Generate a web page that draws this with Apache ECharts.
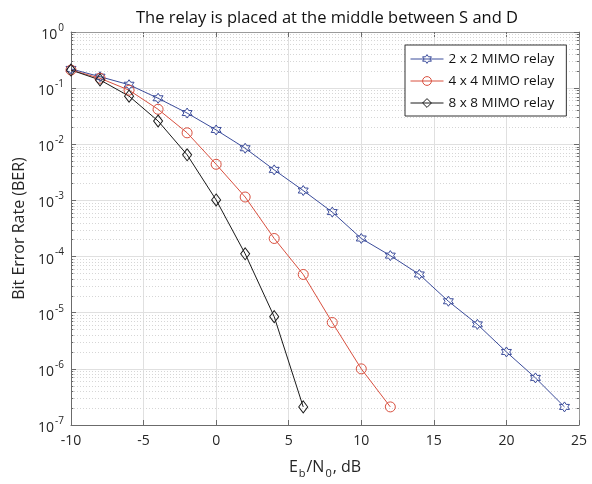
<!DOCTYPE html>
<html>
<head>
<meta charset="utf-8">
<script src="https://cdn.jsdelivr.net/npm/echarts@6/dist/echarts.min.js"></script>
<style>
  html, body { margin: 0; padding: 0; background: #fff; }
  #chart { width: 592px; height: 484px; }
</style>
</head>
<body>
<div id="chart"></div>
<script>
// Eb/N0 (dB) for each curve
var snr2 = [-10, -8, -6, -4, -2, 0, 2, 4, 6, 8, 10, 12, 14, 16, 18, 20, 22, 24];
var snr4 = [-10, -8, -6, -4, -2, 0, 2, 4, 6, 8, 10, 12];
var snr8 = [-10, -8, -6, -4, -2, 0, 2, 4, 6];

// BER values
var ber2 = [0.22, 0.16, 0.115, 0.066, 0.036, 0.018, 0.0085, 0.0035, 0.0015, 0.00062, 0.00021, 0.000104, 4.8e-5, 1.6e-5, 6.2e-6, 2.0e-6, 6.9e-7, 2.1e-7];
var ber4 = [0.21, 0.15, 0.092, 0.042, 0.016, 0.0044, 0.00115, 0.00021, 4.8e-5, 6.7e-6, 1.0e-6, 2.1e-7];
var ber8 = [0.21, 0.14, 0.072, 0.026, 0.0065, 0.00102, 0.000112, 8.5e-6, 2.1e-7];

var names = ['2 x 2 MIMO relay', '4 x 4 MIMO relay', '8 x 8 MIMO relay'];

var xMin = -10, xMax = 25;

// minor grid (dotted) + minor ticks at 2..9 x 10^k, like matlab's log grid
var minorGrid = [], minorTicks = [];
for (var k = -7; k < 0; k++) {
  for (var m = 2; m <= 9; m++) {
    var v = m * Math.pow(10, k);
    minorGrid.push({ coords: [[xMin, v], [xMax, v]] });
    minorTicks.push({ coords: [[xMin, v], [xMin + 0.16, v]] });
    minorTicks.push({ coords: [[xMax - 0.16, v], [xMax, v]] });
  }
}

function pairs(xs, ys) {
  return xs.map(function (x, i) { return [x, ys[i]]; });
}

var hexagram = 'path://M0,-10L2.9,-5L8.66,-5L5.77,0L8.66,5L2.9,5L0,10L-2.9,5L-8.66,5L-5.77,0L-8.66,-5L-2.9,-5Z';
var font = '"Open Sans", "Noto Sans", sans-serif';
var txt = '#262626';
var axisCol = '#6b6b6b';

var chart = echarts.init(document.getElementById('chart'));
var option = {
  animation: false,
  backgroundColor: '#fff',
  textStyle: { fontFamily: font, color: txt },
  title: {
    text: 'The relay is placed at the middle between S and D',
    left: 322,
    textAlign: 'center',
    top: 5,
    textStyle: { fontFamily: font, fontSize: 16.5, fontWeight: 'normal', color: '#111' }
  },
  grid: {
    left: 71, right: 13, top: 32, bottom: 53
  },
  legend: {
    orient: 'vertical',
    left: 405,
    top: 45,
    padding: [7, 12, 6, 5],
    itemGap: 8,
    itemWidth: 33,
    itemHeight: 11,
    backgroundColor: '#fff',
    borderColor: '#333',
    borderWidth: 1,
    data: names,
    lineStyle: { width: 1 },
    itemStyle: { borderWidth: 1 },
    textStyle: { fontFamily: font, fontSize: 13.5, color: '#111' }
  },
  xAxis: [{
    type: 'value',
    min: xMin, max: xMax, interval: 5,
    axisLine: { onZero: false, lineStyle: { color: axisCol } },
    axisTick: { inside: true, length: 5, lineStyle: { color: axisCol } },
    axisLabel: { fontFamily: font, fontSize: 14, color: txt, margin: 9 },
    splitLine: { show: true, lineStyle: { color: '#e0e0e0', width: 1 } },
    name: '{n|E}{s|b}{n|/N}{s|0}{n|, dB}',
    nameLocation: 'middle',
    nameGap: 31,
    nameTextStyle: {
      rich: {
        n: { fontFamily: font, fontSize: 16, color: txt },
        s: { fontFamily: font, fontSize: 11, color: txt, padding: [12, 1, 0, 1] }
      }
    }
  }, {
    type: 'value',
    position: 'top',
    min: xMin, max: xMax, interval: 5,
    axisLine: { onZero: false, lineStyle: { color: '#9a9a9a' } },
    axisTick: { inside: true, length: 5, lineStyle: { color: axisCol } },
    axisLabel: { show: false },
    splitLine: { show: false }
  }],
  yAxis: [{
    type: 'log',
    logBase: 10,
    min: 1e-7, max: 1,
    splitNumber: 7,
    axisLine: { onZero: false, lineStyle: { color: axisCol } },
    axisTick: { inside: true, length: 5, lineStyle: { color: axisCol } },
    axisLabel: {
      margin: 7,
      formatter: function (v) {
        var e = Math.round(Math.log10(v));
        return '{b|10}{s|' + e + '}';
      },
      rich: {
        b: { fontFamily: font, fontSize: 14, color: txt, padding: [6, 0, 0, 0] },
        s: { fontFamily: font, fontSize: 10, color: txt, padding: [0, 0, 8, 1] }
      }
    },
    splitLine: { show: true, lineStyle: { color: '#e0e0e0', width: 1 } },
    name: 'Bit Error Rate (BER)',
    nameLocation: 'middle',
    nameGap: 43,
    nameTextStyle: { fontFamily: font, fontSize: 16, color: txt }
  }, {
    type: 'log',
    logBase: 10,
    position: 'right',
    min: 1e-7, max: 1,
    splitNumber: 7,
    axisLine: { onZero: false, lineStyle: { color: '#9a9a9a' } },
    axisTick: { inside: true, length: 5, lineStyle: { color: axisCol } },
    axisLabel: { show: false },
    splitLine: { show: false }
  }],
  series: [
    {
      type: 'lines',
      coordinateSystem: 'cartesian2d',
      silent: true,
      z: 1,
      lineStyle: { color: '#d6d6d6', type: [1, 2], width: 1, opacity: 1 },
      data: minorGrid
    },
    {
      type: 'lines',
      coordinateSystem: 'cartesian2d',
      silent: true,
      z: 1,
      lineStyle: { color: axisCol, width: 1, opacity: 1 },
      data: minorTicks
    },
    {
      name: names[0],
      type: 'line',
      data: pairs(snr2, ber2),
      symbol: hexagram,
      symbolSize: 10,
      lineStyle: { color: '#3b4c9b', width: 1 },
      itemStyle: { color: 'rgba(255,255,255,0)', borderColor: '#3b4c9b', borderWidth: 1 }
    },
    {
      name: names[1],
      type: 'line',
      data: pairs(snr4, ber4),
      symbol: 'circle',
      symbolSize: 10,
      lineStyle: { color: '#d9503f', width: 1 },
      itemStyle: { color: 'rgba(255,255,255,0)', borderColor: '#d9503f', borderWidth: 1 }
    },
    {
      name: names[2],
      type: 'line',
      data: pairs(snr8, ber8),
      symbol: 'diamond',
      symbolSize: [9, 12],
      lineStyle: { color: '#1a1a1a', width: 1 },
      itemStyle: { color: 'rgba(255,255,255,0)', borderColor: '#1a1a1a', borderWidth: 1 }
    }
  ]
};
chart.setOption(option);
</script>
</body>
</html>
